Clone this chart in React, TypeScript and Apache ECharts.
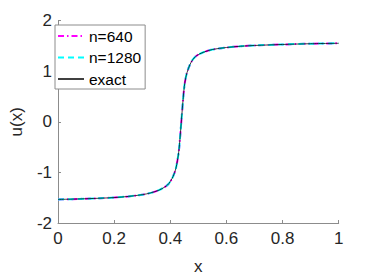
import React, { useEffect, useRef } from "react";
import * as echarts from "echarts";

const xValues = [0, 0.05, 0.1, 0.15, 0.2, 0.25, 0.3, 0.33, 0.36, 0.38, 0.39, 0.4, 0.41, 0.42, 0.43, 0.435, 0.44, 0.445, 0.45, 0.455, 0.46, 0.47, 0.48, 0.49, 0.5, 0.52, 0.55, 0.6, 0.65, 0.7, 0.8, 0.9, 1.0];
const uN640 = [-1.534, -1.528, -1.52, -1.51, -1.497, -1.475, -1.44, -1.405, -1.35, -1.29, -1.25, -1.18, -1.08, -0.92, -0.6, -0.3, 0.05, 0.4, 0.7, 0.87, 0.98, 1.13, 1.23, 1.29, 1.33, 1.38, 1.43, 1.47, 1.495, 1.51, 1.53, 1.545, 1.553];
const uN1280 = [-1.534, -1.528, -1.52, -1.51, -1.497, -1.475, -1.44, -1.405, -1.35, -1.29, -1.25, -1.18, -1.08, -0.92, -0.6, -0.3, 0.05, 0.4, 0.7, 0.87, 0.98, 1.13, 1.23, 1.29, 1.33, 1.38, 1.43, 1.47, 1.495, 1.51, 1.53, 1.545, 1.553];
const uExact = [-1.534, -1.528, -1.52, -1.51, -1.497, -1.475, -1.44, -1.405, -1.35, -1.29, -1.25, -1.18, -1.08, -0.92, -0.6, -0.3, 0.05, 0.4, 0.7, 0.87, 0.98, 1.13, 1.23, 1.29, 1.33, 1.38, 1.43, 1.47, 1.495, 1.51, 1.53, 1.545, 1.553];
const seriesNames = ["n=640", "n=1280", "exact"];

const FONT = "Liberation Sans";
const AXIS_COLOR = "#8c8c8c";
const TEXT_COLOR = "#262626";

export default function App() {
  const ref = useRef<HTMLDivElement>(null);
  useEffect(() => {
    if (!ref.current) return;
    const chart = echarts.init(ref.current, undefined, { renderer: "svg" });
    const pair = (ys: number[]) => xValues.map((x, i) => [x, ys[i]]);
    chart.setOption({
      animation: false,
      backgroundColor: "#ffffff",
      grid: { left: 48.7, right: 35.3, top: 20.7, bottom: 53.3 },
      xAxis: {
        type: "value",
        min: 0,
        max: 1,
        interval: 0.2,
        name: "x",
        nameLocation: "middle",
        nameGap: 35,
        nameTextStyle: { fontFamily: FONT, fontSize: 17, color: TEXT_COLOR },
        axisLine: { show: true, onZero: false, lineStyle: { color: AXIS_COLOR, width: 1 } },
        axisTick: { show: true, inside: true, length: 3, lineStyle: { color: AXIS_COLOR } },
        axisLabel: { fontFamily: FONT, fontSize: 17, color: TEXT_COLOR, margin: 7, formatter: (v: number) => String(+v.toFixed(1)) },
        splitLine: { show: false },
      },
      yAxis: {
        type: "value",
        min: -2,
        max: 2,
        interval: 1,
        name: "u(x)",
        nameLocation: "middle",
        nameGap: 33,
        nameTextStyle: { fontFamily: FONT, fontSize: 17, color: TEXT_COLOR },
        axisLine: { show: true, onZero: false, lineStyle: { color: AXIS_COLOR, width: 1 } },
        axisTick: { show: true, inside: true, length: 3, lineStyle: { color: AXIS_COLOR } },
        axisLabel: { fontFamily: FONT, fontSize: 17, color: TEXT_COLOR, margin: 6 },
        splitLine: { show: false },
      },
      legend: {
        orient: "vertical",
        left: 55,
        top: 25,
        padding: [3, 4, 2, 2],
        borderColor: AXIS_COLOR,
        borderWidth: 1,
        backgroundColor: "#ffffff",
        itemWidth: 26,
        itemHeight: 16,
        itemGap: 5.5,
        itemStyle: { opacity: 0 },
        textStyle: { fontFamily: FONT, fontSize: 15.5, color: "#000000", lineHeight: 16 },
        data: seriesNames,
      },
      series: [
        {
          name: seriesNames[0],
          type: "line",
          data: pair(uN640),
          symbol: "none",
          smooth: 0.3,
          lineStyle: { color: "#ff00ff", width: 2, type: [6, 3, 1.5, 3] },
          itemStyle: { color: "#ff00ff" },
          z: 2,
        },
        {
          name: seriesNames[1],
          type: "line",
          data: pair(uN1280),
          symbol: "none",
          smooth: 0.3,
          lineStyle: { color: "#00ffff", width: 2, type: [6, 4] },
          itemStyle: { color: "#00ffff" },
          z: 3,
        },
        {
          name: seriesNames[2],
          type: "line",
          data: pair(uExact),
          symbol: "none",
          smooth: 0.3,
          lineStyle: { color: "#000000", width: 1, opacity: 0.75 },
          itemStyle: { color: "#000000" },
          z: 4,
        },
      ],
    });
    return () => chart.dispose();
  }, []);
  return <div ref={ref} style={{ width: 374, height: 280, margin: -8 }} />;
}
